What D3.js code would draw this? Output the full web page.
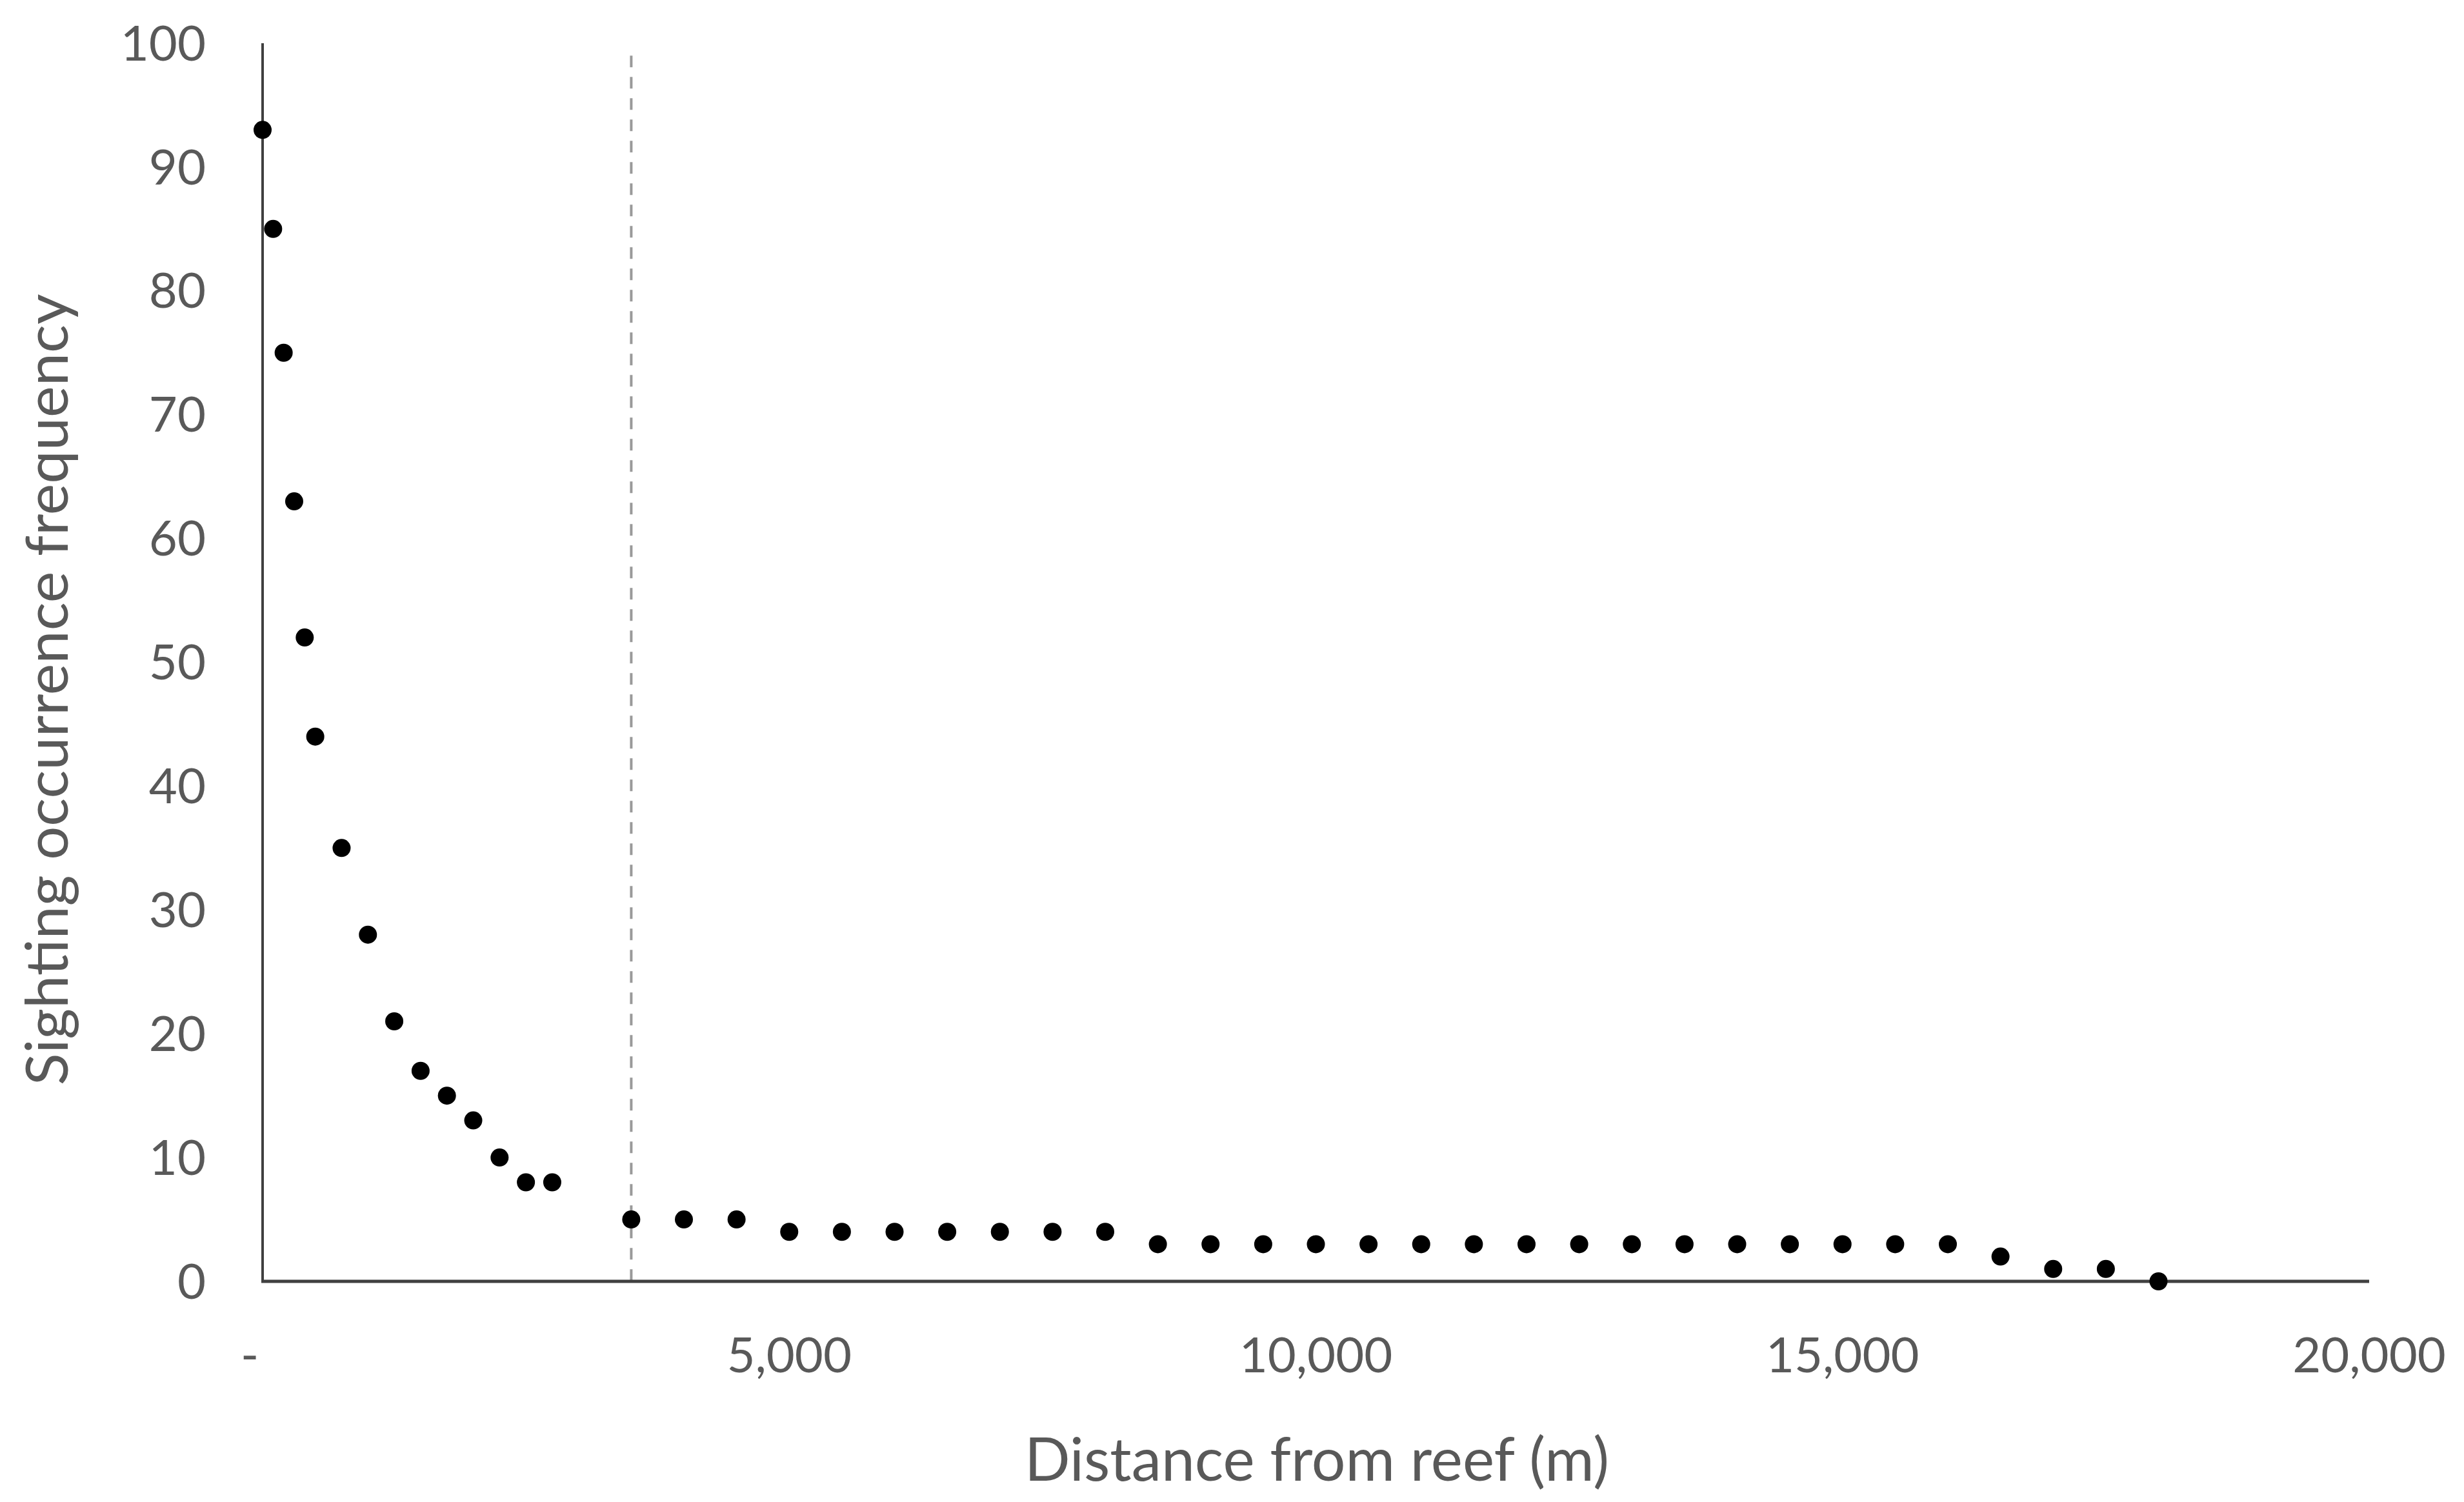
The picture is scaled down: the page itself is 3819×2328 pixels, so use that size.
<!DOCTYPE html>
<html>
<head>
<meta charset="utf-8">
<script src="https://cdn.jsdelivr.net/npm/d3@7"></script>
<style>
  html, body { margin: 0; padding: 0; background: #fff; }
  text { font-family: Lato, "Open Sans", sans-serif; fill: #595959; }
</style>
</head>
<body>
<svg id="chart"></svg>
<script>
// distance from reef (m)
const distance = [0, 100, 200, 300, 400, 500, 750, 1000, 1250, 1500, 1750, 2000, 2250, 2500, 2750,
  3500, 4000, 4500, 5000, 5500, 6000, 6500, 7000, 7500, 8000, 8500, 9000, 9500, 10000,
  10500, 11000, 11500, 12000, 12500, 13000, 13500, 14000, 14500, 15000, 15500, 16000,
  16500, 17000, 17500, 18000];
// sighting occurrence frequency
const frequency = [93, 85, 75, 63, 52, 44, 35, 28, 21, 17, 15, 13, 10, 8, 8,
  5, 5, 5, 4, 4, 4, 4, 4, 4, 4, 3, 3, 3, 3,
  3, 3, 3, 3, 3, 3, 3, 3, 3, 3, 3, 3,
  2, 1, 1, 0];
const xTicks = [0, 5000, 10000, 15000, 20000];
const yTicks = [0, 10, 20, 30, 40, 50, 60, 70, 80, 90, 100];
// dashed reference line
const cutoff = { x: 3500, top: 99 };

const W = 3819, H = 2328;
const svg = d3.select('#chart').attr('width', W).attr('height', H);

const x = d3.scaleLinear().domain([0, 20000]).range([407, 3672]);
const y = d3.scaleLinear().domain([0, 100]).range([1986, 67]);

//数字格式 0 显示为 -
const fmtX = (d) => d === 0 ? '-' : d3.format(',')(d);

// y tick labels
svg.append('g').selectAll('text')
  .data(yTicks)
  .join('text')
  .attr('x', 319)
  .attr('y', (d) => y(d))
  .attr('dy', '0.35em')
  .attr('text-anchor', 'end')
  .attr('font-size', 76)
  .text((d) => d);

// x tick labels
svg.append('g').selectAll('text')
  .data(xTicks)
  .join('text')
  .attr('x', (d) => d === 0 ? x(d) - 20 : x(d))
  .attr('y', 2100)
  .attr('dy', '0.35em')
  .attr('text-anchor', 'middle')
  .attr('font-size', 76)
  .text(fmtX);

// dashed line
svg.append('line')
  .attr('x1', x(cutoff.x)).attr('x2', x(cutoff.x))
  .attr('y1', y(cutoff.top)).attr('y2', y(0) + 8)
  .attr('stroke', '#9a9a9a')
  .attr('stroke-width', 4)
  .attr('stroke-dasharray', '18,15');

// axes
svg.append('line')
  .attr('x1', x(0)).attr('x2', x(0))
  .attr('y1', y(100)).attr('y2', y(0))
  .attr('stroke', '#404040').attr('stroke-width', 4);
svg.append('line')
  .attr('x1', x(0) - 2).attr('x2', x(20000))
  .attr('y1', y(0)).attr('y2', y(0))
  .attr('stroke', '#404040').attr('stroke-width', 5);

// points
svg.append('g').selectAll('circle')
  .data(distance.map((d, i) => ({d: d, f: frequency[i]})))
  .join('circle')
  .attr('cx', (p) => x(p.d))
  .attr('cy', (p) => y(p.f))
  .attr('r', 14)
  .attr('fill', '#000');

// axis titles
svg.append('text')
  .attr('x', 2041).attr('y', 2262)
  .attr('dy', '0.35em')
  .attr('text-anchor', 'middle')
  .attr('font-size', 93)
  .text('Distance from reef (m)');
svg.append('text')
  .attr('transform', 'translate(73,1069) rotate(-90)')
  .attr('dy', '0.35em')
  .attr('text-anchor', 'middle')
  .attr('font-size', 92)
  .text('Sighting occurrence frequency');
</script>
</body>
</html>
